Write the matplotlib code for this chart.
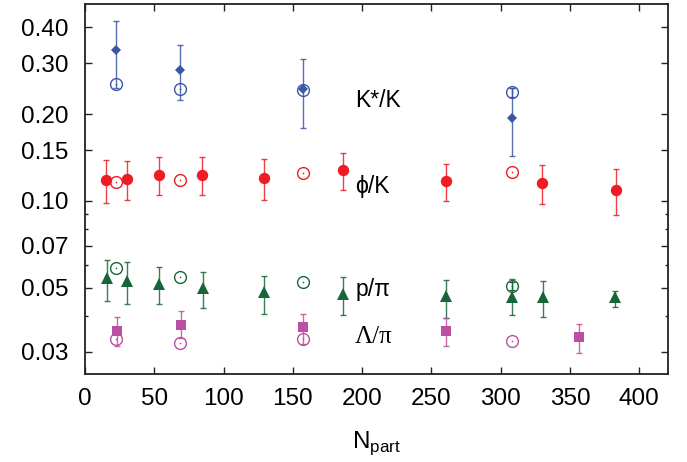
import matplotlib
matplotlib.use("Agg")
import matplotlib.pyplot as plt
from matplotlib.ticker import FixedLocator, NullFormatter, FixedFormatter

plt.rcParams['font.family'] = ['Liberation Sans', 'DejaVu Sans']
plt.rcParams['mathtext.fontset'] = 'custom'
plt.rcParams['mathtext.rm'] = 'Liberation Sans'

# ---------------- data ----------------
# K*/K
kstar_x = [22.3, 68.7, 157.2, 308.4]
kstar_y = [0.333, 0.284, 0.244, 0.194]
kstar_lo = [0.247, 0.224, 0.179, 0.1435]
kstar_hi = [0.419, 0.346, 0.310, 0.247]
kstar_model_x = [22.3, 68.7, 157.2, 308.4]
kstar_model_y = [0.255, 0.245, 0.242, 0.238]
kstar_model_err = [0.0, 0.0, 0.0, 0.009]

# phi/K
phi_x = [15.4, 30.0, 53.4, 84.8, 129.1, 186.5, 260.3, 330.0, 383.2]
phi_y = [0.1182, 0.119, 0.1233, 0.1233, 0.1204, 0.128, 0.117, 0.1157, 0.1094]
phi_lo = [0.0984, 0.1008, 0.1046, 0.1046, 0.1005, 0.109, 0.0997, 0.0976, 0.0897]
phi_hi = [0.1387, 0.1375, 0.1416, 0.1416, 0.140, 0.147, 0.1346, 0.1335, 0.1288]
phi_model_x = [22.3, 68.7, 157.4, 308.4]
phi_model_y = [0.116, 0.1185, 0.1253, 0.126]
phi_model_err = [0.0, 0.0, 0.0, 0.0]

# p/pi
p_x = [15.9, 30.3, 53.4, 85.3, 129.1, 186.5, 260.6, 308.2, 330.3, 382.4]
p_y = [0.0540, 0.0530, 0.0516, 0.0501, 0.0482, 0.0477, 0.0469, 0.0466, 0.0466, 0.0463]
p_lo = [0.0451, 0.0440, 0.0439, 0.0425, 0.0407, 0.0401, 0.0394, 0.0401, 0.0397, 0.0430]
p_hi = [0.0622, 0.0612, 0.0590, 0.0569, 0.0550, 0.0543, 0.0534, 0.0535, 0.0527, 0.0489]
p_model_x = [22.6, 68.7, 157.4, 308.2]
p_model_y = [0.0588, 0.0543, 0.0522, 0.0508]
p_model_err = [0.0, 0.0, 0.0, 0.0015]

# Lambda/pi
lam_x = [22.8, 69.0, 157.7, 260.6, 356.7]
lam_y = [0.0353, 0.0371, 0.0366, 0.0354, 0.0338]
lam_lo = [0.0315, 0.0335, 0.0320, 0.0315, 0.0297]
lam_hi = [0.0395, 0.0414, 0.0406, 0.0394, 0.0376]
lam_model_x = [22.6, 68.7, 157.4, 308.4]
lam_model_y = [0.0333, 0.0321, 0.0332, 0.0327]
lam_model_err = [0.0, 0.0, 0.0, 0.0]

y_major = [0.03, 0.05, 0.07, 0.10, 0.15, 0.20, 0.30, 0.40]
y_major_labels = ['0.03', '0.05', '0.07', '0.10', '0.15', '0.20', '0.30', '0.40']
y_minor = [0.04, 0.06, 0.08, 0.09]
x_ticks = [0, 50, 100, 150, 200, 250, 300, 350, 400]

BLUE = '#3b56a6'
RED = '#ee1d25'
GREEN = '#17663a'
MAGENTA = '#bb4fa3'

fig = plt.figure(figsize=(6.87, 4.62), dpi=100)
ax = fig.add_axes([0.1237, 0.190, 0.848, 0.8007])
ax.set_yscale('log')


def errs(y, lo, hi):
    return [[a - b for a, b in zip(y, lo)], [c - a for a, c in zip(y, hi)]]


def filled(x, y, lo, hi, color, marker, ms):
    ax.errorbar(x, y, yerr=errs(y, lo, hi), fmt='none', ecolor=color,
                elinewidth=1.0, capsize=2.5, capthick=1.0, alpha=0.85, zorder=2)
    ax.plot(x, y, linestyle='none', marker=marker, ms=ms, color=color,
            markeredgewidth=0, zorder=3)


def hollow(x, y, color, err):
    ex = [a for a, e in zip(x, err) if e > 0]
    ey = [b for b, e in zip(y, err) if e > 0]
    ee = [e for e in err if e > 0]
    if ee:
        ax.errorbar(ex, ey, yerr=ee, fmt='none', ecolor=color,
                    elinewidth=0.9, capsize=2.5, capthick=0.9, zorder=2)
    ax.plot(x, y, linestyle='none', marker='o', ms=8.5, markerfacecolor='none',
            markeredgecolor=color, markeredgewidth=1.0, zorder=3)
    ax.plot(x, y, linestyle='none', marker='o', ms=1.2, color=color,
            markeredgewidth=0, zorder=3)


filled(kstar_x, kstar_y, kstar_lo, kstar_hi, BLUE, 'D', 5.2)
hollow(kstar_model_x, kstar_model_y, BLUE, kstar_model_err)

filled(phi_x, phi_y, phi_lo, phi_hi, RED, 'o', 8.2)
hollow(phi_model_x, phi_model_y, RED, phi_model_err)

filled(p_x, p_y, p_lo, p_hi, GREEN, '^', 8.8)
hollow(p_model_x, p_model_y, GREEN, p_model_err)

filled(lam_x, lam_y, lam_lo, lam_hi, MAGENTA, 's', 6.8)
hollow(lam_model_x, lam_model_y, MAGENTA, lam_model_err)

fs = 17.5
tfs = 16.5
ax.text(195, 0.2236, 'K*/K', fontsize=tfs, ha='left', va='center')
ax.text(195, 0.112, 'ϕ/K', fontsize=tfs, ha='left', va='center')
ax.text(195, 0.0492, 'p/π', fontsize=tfs, ha='left', va='center')
ax.text(195, 0.0339, 'Λ/π', fontsize=tfs + 1.5, ha='left', va='center',
        family=['Liberation Serif', 'DejaVu Serif'])

ax.set_xlim(0, 420.5)
ax.set_ylim(0.0251, 0.48)

ax.xaxis.set_major_locator(FixedLocator(x_ticks))
ax.yaxis.set_major_locator(FixedLocator(y_major))
ax.yaxis.set_major_formatter(FixedFormatter(y_major_labels))
ax.yaxis.set_minor_locator(FixedLocator(y_minor))
ax.yaxis.set_minor_formatter(NullFormatter())
ax.xaxis.set_minor_locator(FixedLocator([]))

ax.tick_params(which='both', direction='in', top=True, right=True,
               labelsize=fs, width=1.0, colors='#222222', labelcolor='black')
ax.tick_params(which='major', length=5.0)
ax.tick_params(axis='x', which='major', pad=10)
ax.tick_params(axis='y', which='major', pad=12)
ax.tick_params(which='minor', length=2.5)
for s in ax.spines.values():
    s.set_linewidth(1.3)
    s.set_color('#222222')

ax.set_xlabel(r'N$_{\mathregular{part}}$', fontsize=fs, labelpad=14)

fig.savefig('out.png', dpi=100)
